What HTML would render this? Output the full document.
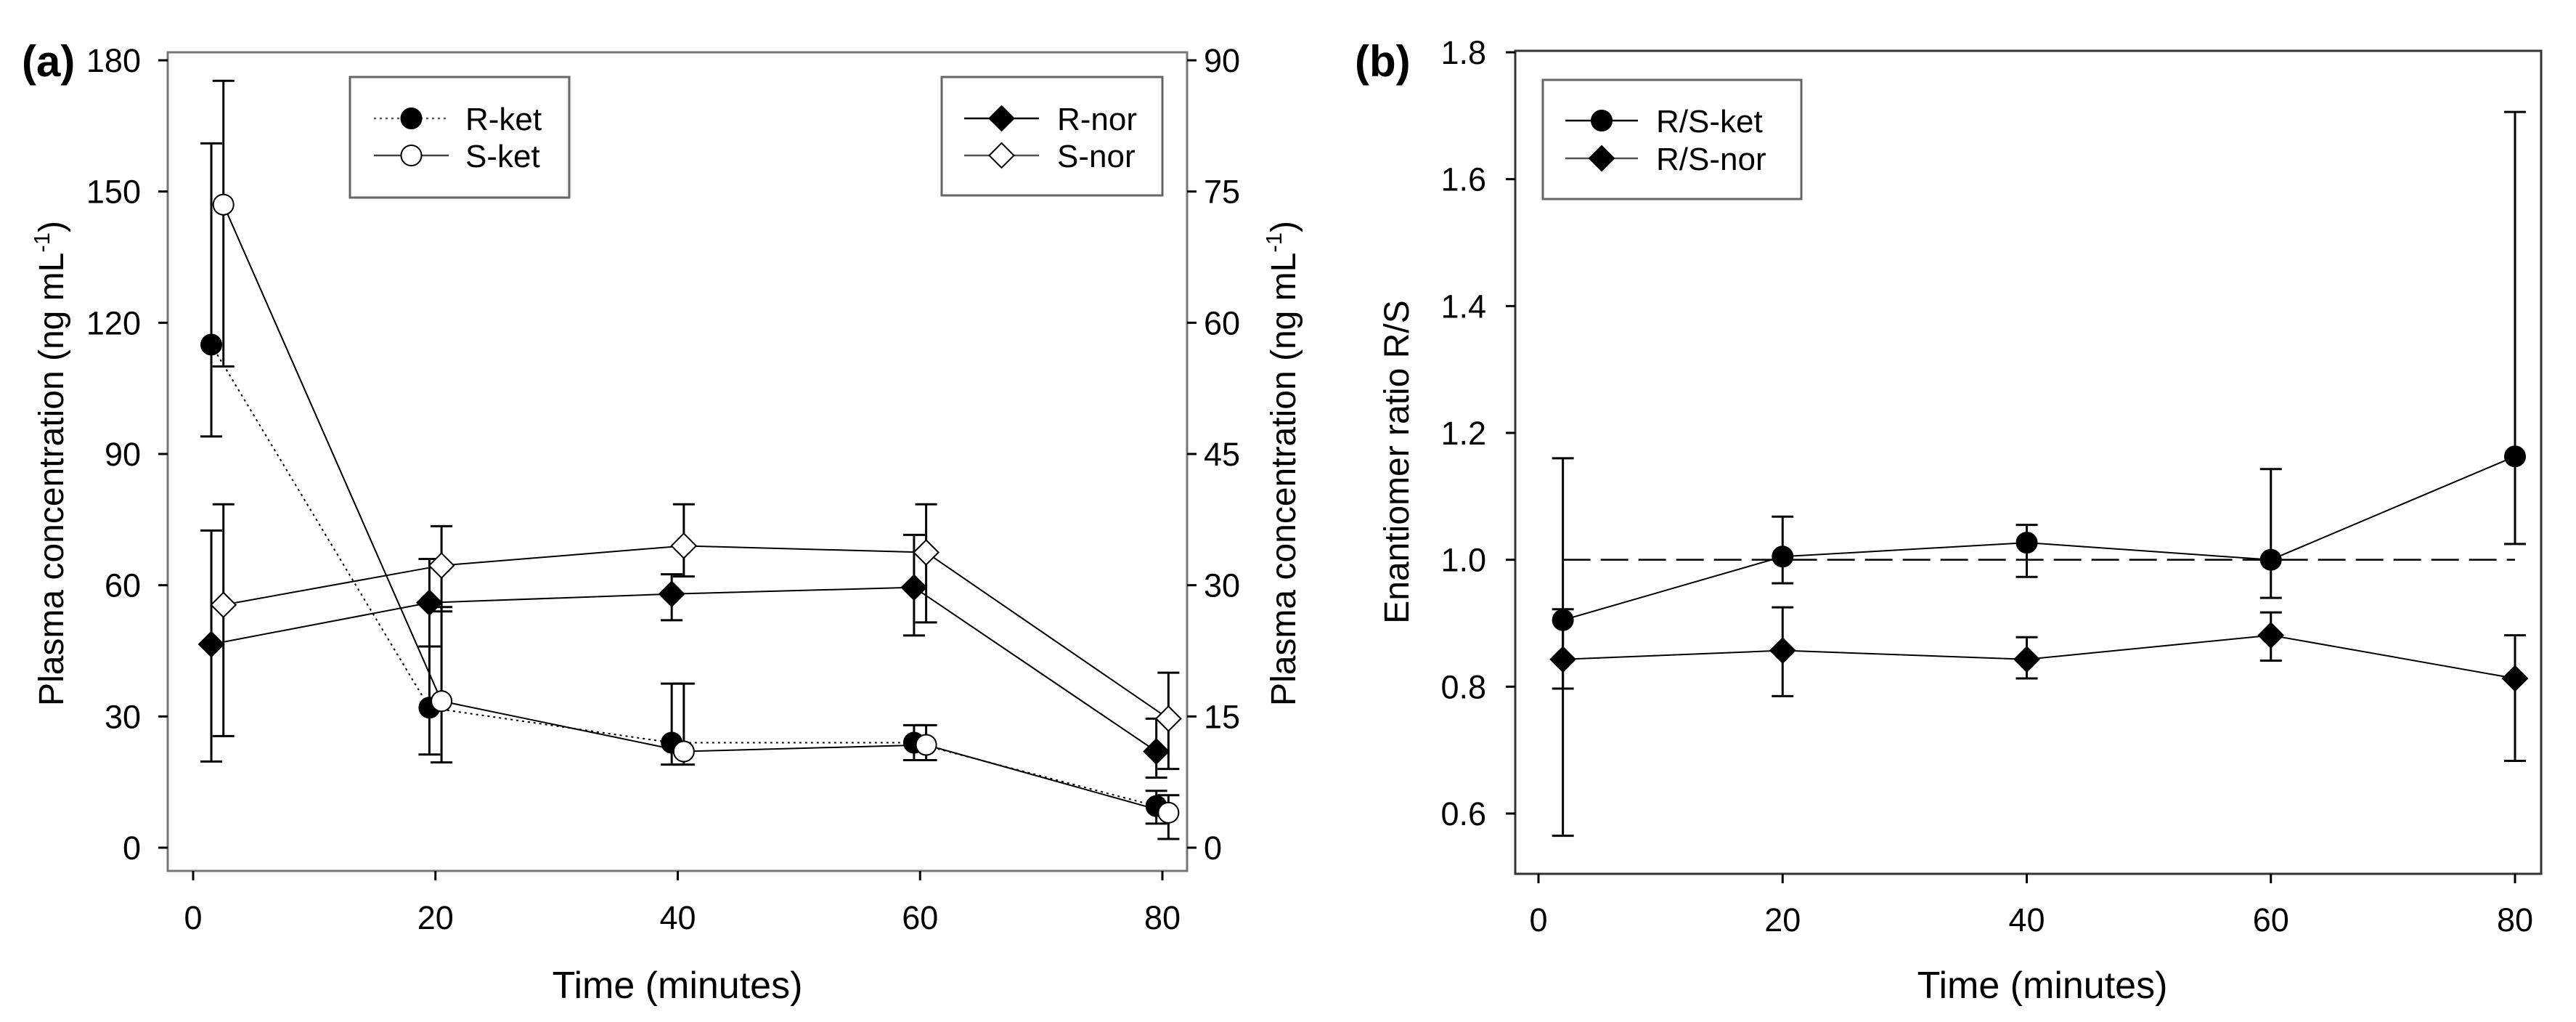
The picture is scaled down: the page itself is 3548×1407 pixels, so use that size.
<!DOCTYPE html>
<html><head><meta charset="utf-8"><style>
html,body{margin:0;padding:0;background:#fff}
svg{display:block}
text{font-family:"Liberation Sans",Arial,sans-serif;fill:#000}
</style></head><body>
<svg id="chart" width="3548" height="1407" viewBox="0 0 3548 1407" xmlns="http://www.w3.org/2000/svg"></svg>
<script>
// ---- Panel (a) data ----
const timesA = [0, 20, 40, 60, 80];
const xTicksA = [0, 20, 40, 60, 80];
const yTicksLeft = [0, 30, 60, 90, 120, 150, 180];
const yTicksRight = [0, 15, 30, 45, 60, 75, 90];
const rKetX = [1.5, 19.5, 39.5, 59.5, 79.5];
const rKet = [115, 32, 24, 24, 9.5];
const rKetLo = [94, 21.3, 19, 20, 5.5];
const rKetHi = [161, 46, 37.5, 28, 13];
const sKetX = [2.5, 20.5, 40.5, 60.5, 80.5];
const sKet = [147, 33.5, 22, 23.5, 8];
const sKetLo = [110, 19.5, 19, 20, 2];
const sKetHi = [175.3, 55, 37.5, 28, 12];
const rNorX = [1.5, 19.5, 39.5, 59.5, 79.5];
const rNor = [23.25, 28, 29, 29.75, 11];
const rNorLo = [9.85, 23, 26, 24.25, 8];
const rNorHi = [36.25, 33, 31.25, 35.75, 14.75];
const sNorX = [2.5, 20.5, 40.5, 60.5, 80.5];
const sNor = [27.75, 32.25, 34.5, 33.75, 14.75];
const sNorLo = [12.75, 27, 31, 25.75, 9];
const sNorHi = [39.25, 36.75, 39.25, 39.25, 20];
// ---- Panel (b) data ----
const xTicksB = [0, 20, 40, 60, 80];
const yTicksB = [0.6, 0.8, 1.0, 1.2, 1.4, 1.6, 1.8];
const ratioX = [2, 20, 40, 60, 80];
const rsKet = [0.905, 1.005, 1.027, 1.0, 1.163];
const rsKetLo = [0.565, 0.963, 0.973, 0.94, 1.025];
const rsKetHi = [1.16, 1.068, 1.055, 1.143, 1.706];
const rsNor = [0.843, 0.857, 0.843, 0.881, 0.813];
const rsNorLo = [0.797, 0.785, 0.813, 0.841, 0.683];
const rsNorHi = [0.922, 0.925, 0.878, 0.917, 0.881];
const refLine = [1.0];

const svg = document.getElementById('chart');
const NS = 'http://www.w3.org/2000/svg';
function el(tag, attrs, parent) {
  const e = document.createElementNS(NS, tag);
  for (const k in attrs) e.setAttribute(k, attrs[k]);
  (parent || svg).appendChild(e);
  return e;
}
function txt(s, attrs, parent) { const t = el('text', attrs, parent); t.textContent = s; return t; }

const xa = v => 266 + (v - 0) * (1601 - 266) / 80;
const yl = v => 1167 - v * (1167 - 83) / 180;
const yr = v => yl(v * 2);
const xb = v => 2119 + v * (3464 - 2119) / 80;
const yb = v => 1120 - (v - 0.6) * (1120 - 72) / 1.2;

const TICK = 45;
// ---------- Panel (a) ----------
const ga = el('g', {});


const frameA = el('rect', {x:231, y:72, width:1404, height:1127, fill:'none', stroke:'#777', 'stroke-width':3}, ga);


const pl = txt('(a)', {x:30, y:105, 'font-size':60, 'font-weight':'bold'}, ga);


yTicksLeft.forEach(v => {
  const y = yl(v);
  const l = el('line', {x1:218, x2:231, y1:y, y2:y, stroke:'#000', 'stroke-width':3}, ga);
  
  
  const t = txt(String(v), {x:194, y:y + 16, 'font-size':TICK, 'text-anchor':'end'}, ga);
  
  
});
yTicksRight.forEach(v => {
  const y = yr(v);
  const l = el('line', {x1:1635, x2:1648, y1:y, y2:y, stroke:'#000', 'stroke-width':3}, ga);
  
  
  const t = txt(String(v), {x:1658, y:y + 16, 'font-size':TICK}, ga);
  
  
});
xTicksA.forEach(v => {
  const x = xa(v);
  const l = el('line', {x1:x, x2:x, y1:1199, y2:1212, stroke:'#000', 'stroke-width':3}, ga);
  
  
  const t = txt(String(v), {x:x, y:1279, 'font-size':TICK, 'text-anchor':'middle'}, ga);
  
  
});
const xtA = txt('Time (minutes)', {x:933, y:1374, 'font-size':52, 'text-anchor':'middle'}, ga);


function yTitle(x, cx, name) {
  const t = el('text', {transform:`translate(${x},${cx}) rotate(-90)`, 'font-size':48, 'text-anchor':'middle'}, ga);
  
  
  t.appendChild(document.createTextNode('Plasma concentration (ng mL'));
  const s = el('tspan', {'font-size':31, dy:-19}, t); s.textContent = '-1';
  const s2 = el('tspan', {dy:19}, t); s2.textContent = ')';
}
yTitle(87, 638, 'y-axis-title-left');
yTitle(1784, 638, 'y-axis-title-right');

function series(g, xs, ys, lo, hi, xf, yf, marker, dash, stroke, name) {
  const grp = el('g', {}, g);
  
  
  xs.forEach((xv, i) => {
    const x = xf(xv);
    const e = el('path', {d:`M${x},${yf(lo[i])}V${yf(hi[i])}M${x-15},${yf(lo[i])}H${x+15}M${x-15},${yf(hi[i])}H${x+15}`, stroke:'#000', 'stroke-width':3, fill:'none'}, grp);
    
    
  });
  const pts = xs.map((xv, i) => xf(xv) + ',' + yf(ys[i])).join(' ');
  const pl = el('polyline', {points:pts, fill:'none', stroke:stroke, 'stroke-width':2, 'stroke-dasharray':dash || 'none'}, grp);
  
  
  xs.forEach((xv, i) => {
    const m = drawMarker(grp, marker, xf(xv), yf(ys[i]));
    
    
  });
}
function drawMarker(g, type, x, y) {
  if (type === 'circleF') return el('circle', {cx:x, cy:y, r:14, fill:'#000', stroke:'#000', 'stroke-width':2}, g);
  if (type === 'circleO') return el('circle', {cx:x, cy:y, r:14, fill:'#fff', stroke:'#000', 'stroke-width':2}, g);
  const d = 17;
  return el('polygon', {points:`${x},${y-d} ${x+d},${y} ${x},${y+d} ${x-d},${y}`, fill:type === 'diamondF' ? '#000' : '#fff', stroke:'#000', 'stroke-width':2}, g);
}
series(ga, rNorX, rNor, rNorLo, rNorHi, xa, yr, 'diamondF', null, '#000', 'r-nor-series');
series(ga, sNorX, sNor, sNorLo, sNorHi, xa, yr, 'diamondO', null, '#000', 's-nor-series');
series(ga, rKetX, rKet, rKetLo, rKetHi, xa, yl, 'circleF', '3,5', '#000', 'r-ket-series');
series(ga, sKetX, sKet, sKetLo, sKetHi, xa, yl, 'circleO', null, '#000', 's-ket-series');

function legend(g, x, y, w, h, items, name) {
  const lg = el('g', {}, g);
  
  
  el('rect', {x:x, y:y, width:w, height:h, fill:'#fff', stroke:'#666', 'stroke-width':3}, lg);
  items.forEach(it => {
    const row = el('g', {}, lg);
    
    
    el('line', {x1:it.x1, x2:it.x2, y1:it.y, y2:it.y, stroke:it.c || '#000', 'stroke-width':2.5, 'stroke-dasharray':it.dash || 'none'}, row);
    drawMarker(row, it.m, (it.x1 + it.x2) / 2, it.y);
    txt(it.label, {x:it.tx, y:it.y + 16, 'font-size':44}, row);
  });
}
legend(ga, 482, 106, 302, 166, [
  {x1:515, x2:618, y:163, m:'circleF', dash:'3,5', label:'R-ket', tx:641, c:'#555'},
  {x1:515, x2:618, y:214, m:'circleO', label:'S-ket', tx:641, c:'#444'}], 'legend-ket');
legend(ga, 1297, 106, 304, 163, [
  {x1:1328, x2:1431, y:163, m:'diamondF', label:'R-nor', tx:1456},
  {x1:1328, x2:1431, y:214, m:'diamondO', label:'S-nor', tx:1456, c:'#555'}], 'legend-nor');

// ---------- Panel (b) ----------
const gb = el('g', {});


const frameB = el('rect', {x:2087, y:70, width:1413, height:1133, fill:'none', stroke:'#333', 'stroke-width':3}, gb);


const plb = txt('(b)', {x:1866, y:105, 'font-size':60, 'font-weight':'bold'}, gb);


yTicksB.forEach(v => {
  const y = yb(v);
  const l = el('line', {x1:2074, x2:2087, y1:y, y2:y, stroke:'#000', 'stroke-width':3}, gb);
  
  
  const t = txt(v.toFixed(1), {x:2047, y:y + 16, 'font-size':TICK, 'text-anchor':'end'}, gb);
  
  
});
xTicksB.forEach(v => {
  const x = xb(v);
  const l = el('line', {x1:x, x2:x, y1:1203, y2:1216, stroke:'#000', 'stroke-width':3}, gb);
  
  
  const t = txt(String(v), {x:x, y:1282, 'font-size':TICK, 'text-anchor':'middle'}, gb);
  
  
});
const xtB = txt('Time (minutes)', {x:2813, y:1374, 'font-size':52, 'text-anchor':'middle'}, gb);


const ytB = txt('Enantiomer ratio R/S', {transform:'translate(1940,636) rotate(-90)', 'font-size':48, 'text-anchor':'middle'}, gb);


const ref = el('line', {x1:xb(ratioX[0]), x2:xb(ratioX[ratioX.length-1]), y1:yb(refLine[0]), y2:yb(refLine[0]), stroke:'#000', 'stroke-width':2.5, 'stroke-dasharray':'38,14'}, gb);


series(gb, ratioX, rsNor, rsNorLo, rsNorHi, xb, yb, 'diamondF', null, '#000', 'rs-nor-series');
series(gb, ratioX, rsKet, rsKetLo, rsKetHi, xb, yb, 'circleF', null, '#000', 'rs-ket-series');
legend(gb, 2125, 110, 356, 164, [
  {x1:2156, x2:2256, y:166, m:'circleF', label:'R/S-ket', tx:2281},
  {x1:2156, x2:2256, y:218, m:'diamondF', label:'R/S-nor', tx:2281, c:'#555'}], 'legend-ratio');
</script>
</body></html>
